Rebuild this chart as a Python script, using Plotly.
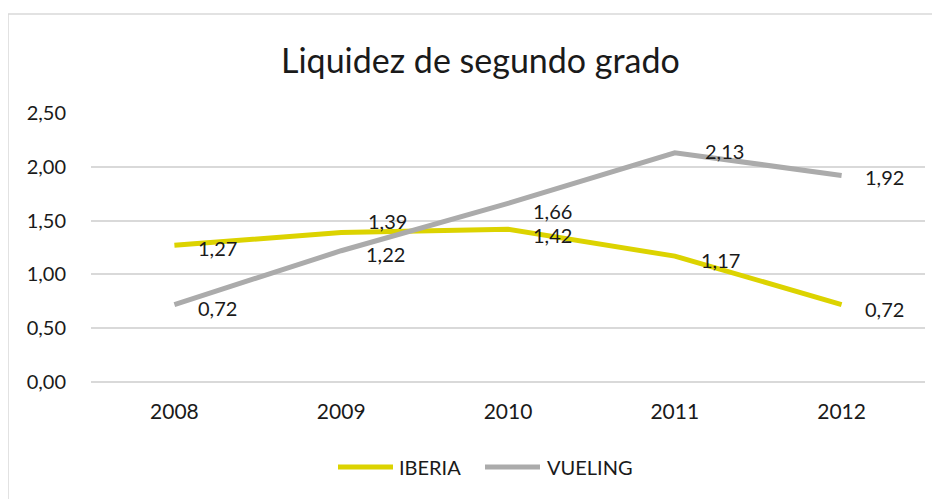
import plotly.graph_objects as go

years = ["2008", "2009", "2010", "2011", "2012"]
iberia = [1.27, 1.39, 1.42, 1.17, 0.72]
vueling = [0.72, 1.22, 1.66, 2.13, 1.92]
title_text = "Liquidez de segundo grado"
series_names = ["IBERIA", "VUELING"]

YELLOW = "#DCD300"
GRAY = "#ABABAB"
FONT = "Lato"
TXT = "#1a1a1a"

# label offsets in pixels (style only): (dx, dy down)
iberia_off = [(43, 2), (46, -12), (44, 5), (46, 3), (43, 3)]
vueling_off = [(43, 2), (44, 2), (44, 7), (50, -3), (43, 1)]

OFF = 8  # page body margin
W, H = 940 - OFF, 499 - OFF
# plot area in screen coordinates
PX0, PX1, PY0, PY1 = 91, 925, 113, 382
L, R, T, B = PX0 - OFF, W - (PX1 - OFF), PY0 - OFF, H - (PY1 - OFF)
pw, ph = W - L - R, H - T - B

def px(x):
    return (x - OFF - L) / pw

def py(y):
    return (H - B - (y - OFF)) / ph

fig = go.Figure()
fig.add_trace(go.Scatter(x=years, y=iberia, mode="lines", name=series_names[0],
                         line=dict(color=YELLOW, width=5), showlegend=False, hoverinfo="skip"))
fig.add_trace(go.Scatter(x=years, y=vueling, mode="lines", name=series_names[1],
                         line=dict(color=GRAY, width=5), showlegend=False, hoverinfo="skip"))

def fmt(v):
    return f"{v:.2f}".replace(".", ",")

anns = []
for vals, offs in ((iberia, iberia_off), (vueling, vueling_off)):
    for i, (v, (dx, dy)) in enumerate(zip(vals, offs)):
        anns.append(dict(x=i, y=v, xref="x", yref="y", text=fmt(v), showarrow=False,
                         xanchor="center", yanchor="middle", xshift=dx, yshift=-dy - 1,
                         font=dict(family=FONT, size=20, color=TXT)))

anns.append(dict(text=title_text, x=px(480), y=py(59), xref="paper", yref="paper", showarrow=False,
                 xanchor="center", yanchor="middle",
                 font=dict(family=FONT, size=34, color=TXT)))

shapes = []
shapes.append(dict(type="rect", xref="paper", yref="paper", x0=px(8), x1=px(960), y0=py(14), y1=py(520),
                   line=dict(color="#D9D9D9", width=1.5), layer="below"))
legend_items = [(338, 393, 397, series_names[0], YELLOW), (485, 540, 545, series_names[1], GRAY)]
for x0, x1, tx, name, col in legend_items:
    shapes.append(dict(type="line", xref="paper", yref="paper", x0=px(x0), x1=px(x1), y0=py(467), y1=py(467),
                       line=dict(color=col, width=5)))
    anns.append(dict(text=name, x=px(tx), y=py(467), xref="paper", yref="paper", showarrow=False,
                     xanchor="left", yanchor="middle", font=dict(family=FONT, size=20, color=TXT)))

fig.update_layout(
    width=W, height=H,
    margin=dict(l=L, r=R, t=T, b=B, pad=0),
    paper_bgcolor="white", plot_bgcolor="white",
    separators=",.",
    showlegend=False,
    annotations=anns,
    shapes=shapes,
    font=dict(family=FONT, color=TXT),
)
fig.update_xaxes(type="category", range=[-0.5, 4.5], showgrid=False, showline=False, zeroline=False,
                 ticks="", tickfont=dict(family=FONT, size=21, color=TXT), ticklabelstandoff=15)
fig.update_yaxes(range=[0, 2.5], dtick=0.5, tickformat=".2f", showgrid=True, gridcolor="#D9D9D9",
                 gridwidth=1.5, zeroline=True, zerolinecolor="#D9D9D9", zerolinewidth=1.5,
                 showline=False, ticks="", tickfont=dict(family=FONT, size=20, color=TXT),
                 ticklabelstandoff=24)

fig.write_html("out.html")
